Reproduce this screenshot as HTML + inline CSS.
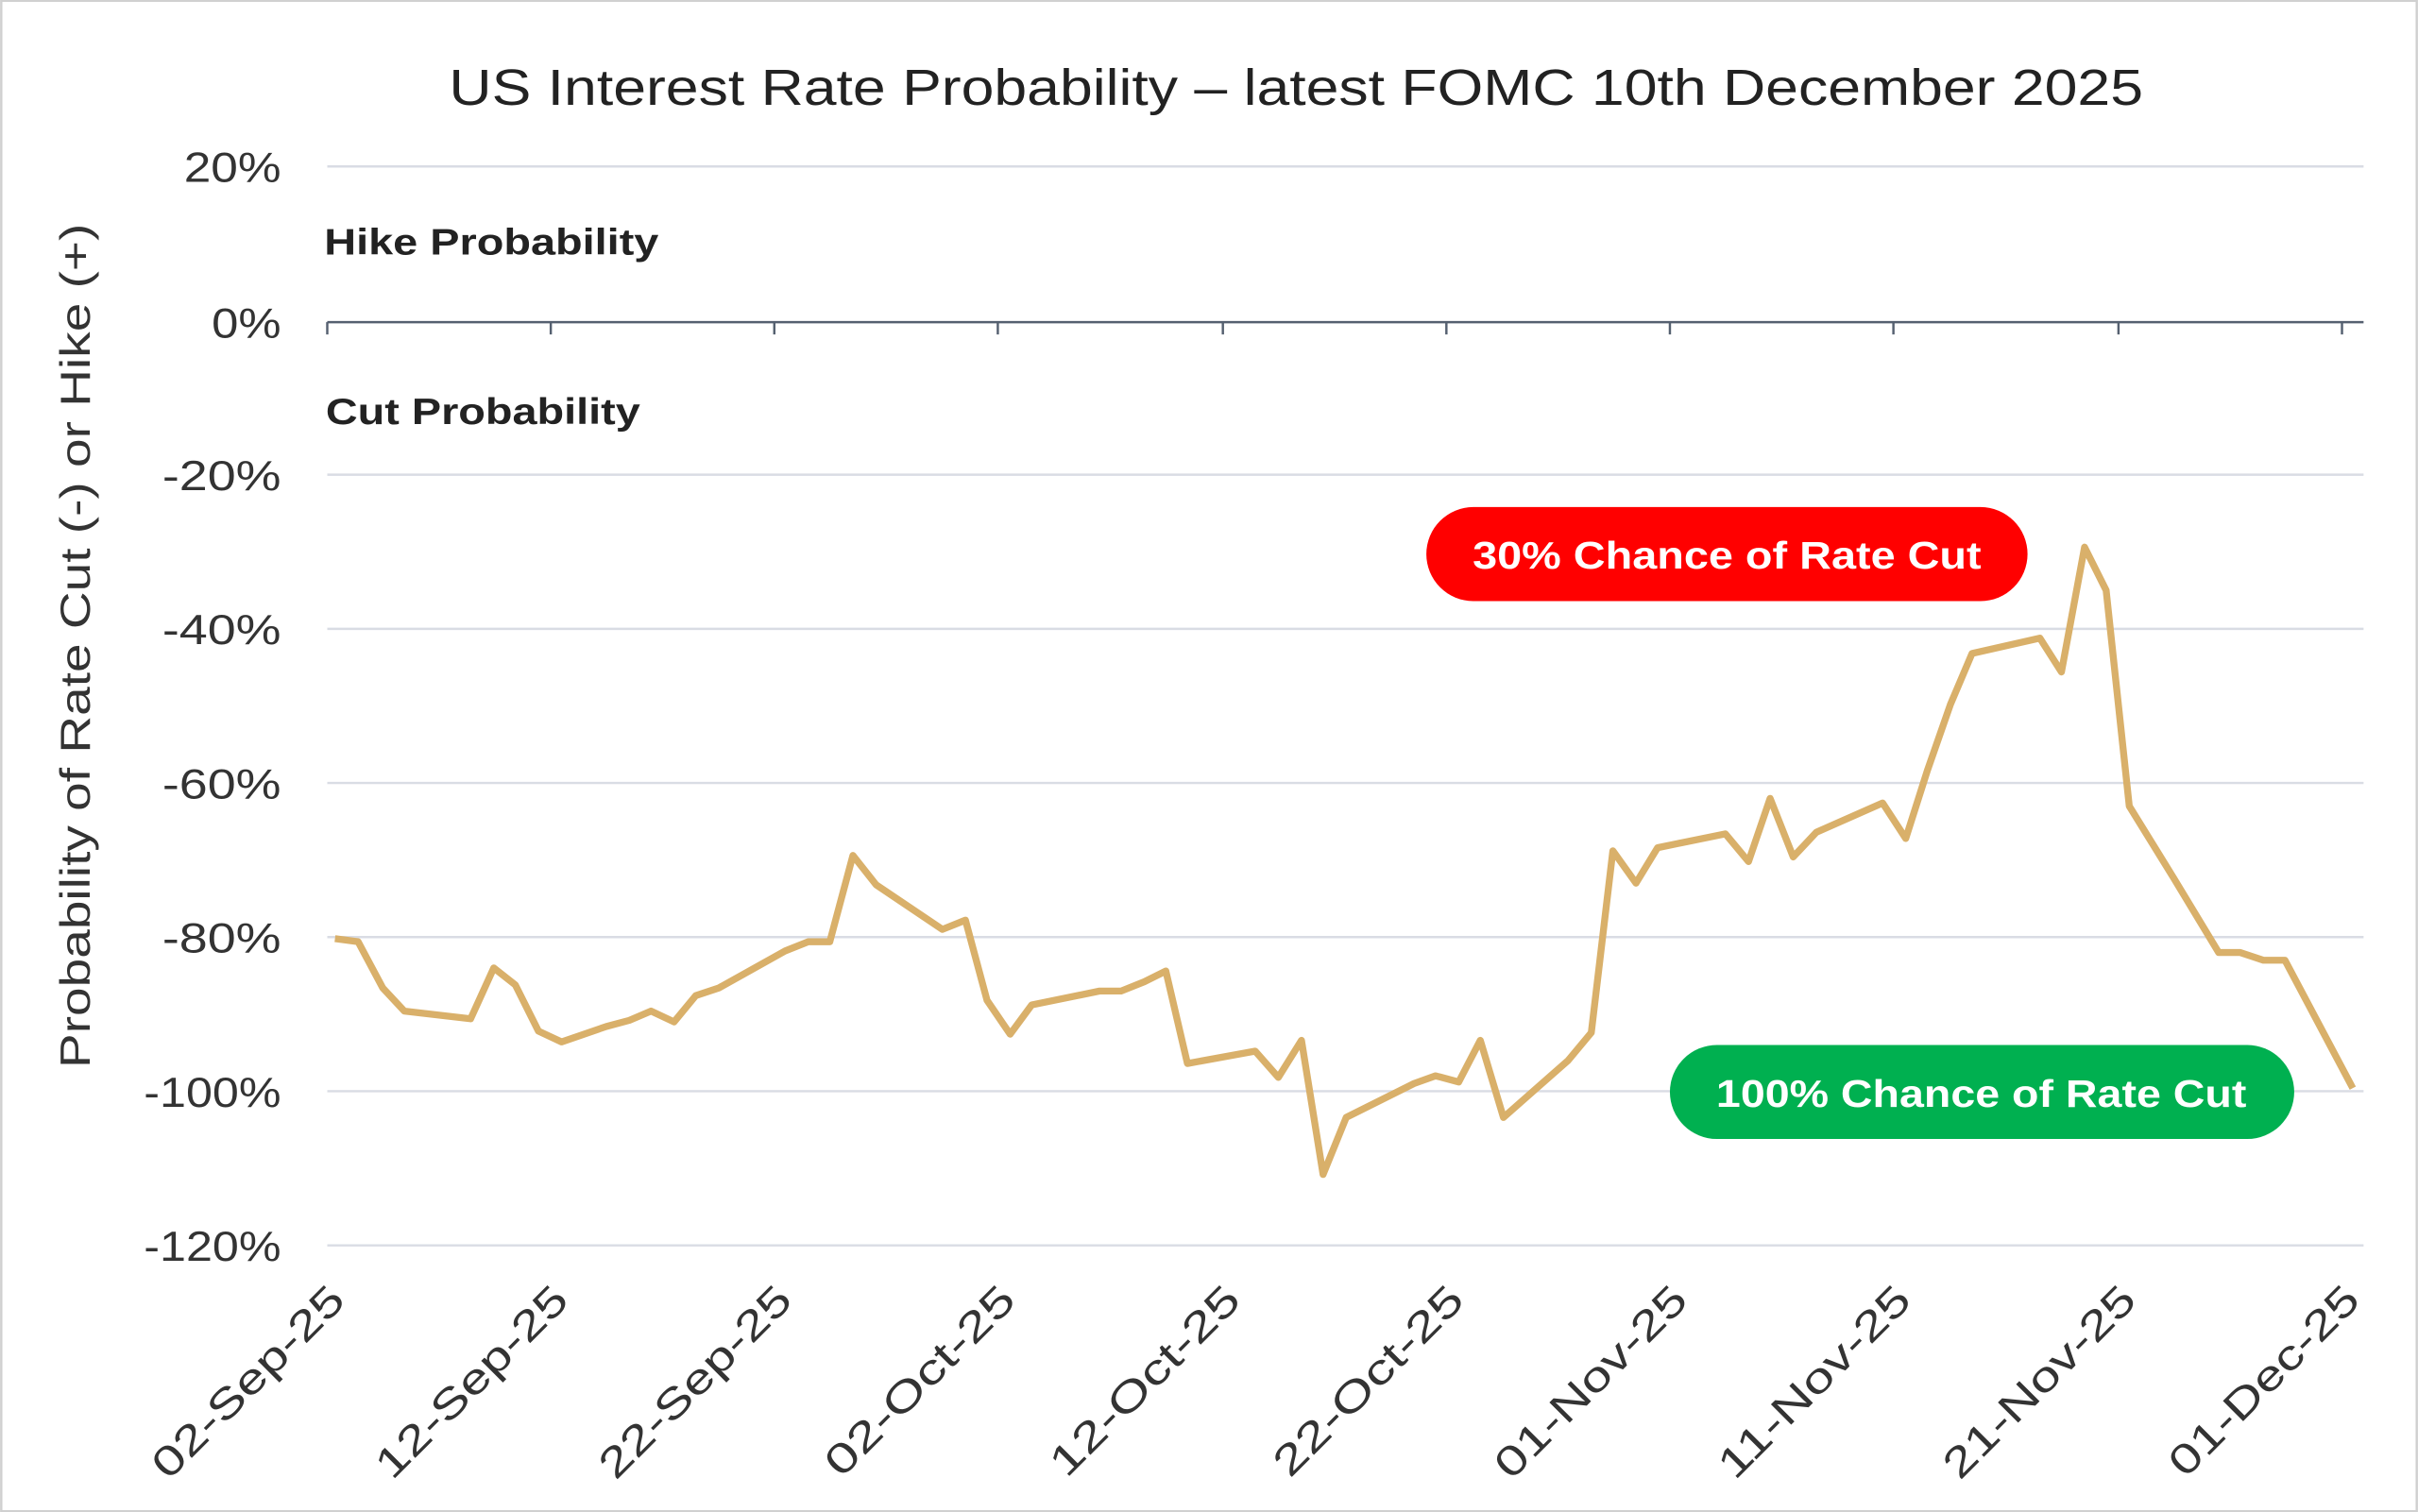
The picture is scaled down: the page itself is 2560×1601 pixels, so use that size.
<!DOCTYPE html>
<html><head><meta charset="utf-8"><style>
html,body{margin:0;padding:0;background:#fff;}
svg{display:block;}
text{font-family:"Liberation Sans",sans-serif;}
</style></head><body>
<svg width="2560" height="1601" viewBox="0 0 1568 981" xmlns="http://www.w3.org/2000/svg">
<rect x="0.5" y="0.5" width="1567" height="980" fill="#fff" stroke="#d0d0d0" stroke-width="1.5"/>
<text x="291" y="68" font-size="33" fill="#222" textLength="1099" lengthAdjust="spacingAndGlyphs">US Interest Rate Probability – latest FOMC 10th December 2025</text>
<g stroke="#d9dce4" stroke-width="1.5">
<line x1="212" y1="108" x2="1533" y2="108"/>
<line x1="212" y1="308" x2="1533" y2="308"/>
<line x1="212" y1="408" x2="1533" y2="408"/>
<line x1="212" y1="508" x2="1533" y2="508"/>
<line x1="212" y1="608" x2="1533" y2="608"/>
<line x1="212" y1="708" x2="1533" y2="708"/>
<line x1="212" y1="808" x2="1533" y2="808"/>
</g>
<line x1="212" y1="209" x2="1533" y2="209" stroke="#556070" stroke-width="1.5"/>
<g stroke="#556070" stroke-width="1.5">
<line x1="212" y1="209" x2="212" y2="217"/><line x1="357" y1="209" x2="357" y2="217"/><line x1="502" y1="209" x2="502" y2="217"/><line x1="647" y1="209" x2="647" y2="217"/><line x1="793" y1="209" x2="793" y2="217"/><line x1="938" y1="209" x2="938" y2="217"/><line x1="1083" y1="209" x2="1083" y2="217"/><line x1="1228" y1="209" x2="1228" y2="217"/><line x1="1374" y1="209" x2="1374" y2="217"/><line x1="1519" y1="209" x2="1519" y2="217"/>
</g>
<g font-size="27" fill="#333">
<text x="119" y="118" textLength="63" lengthAdjust="spacingAndGlyphs">20%</text>
<text x="137" y="219" textLength="45" lengthAdjust="spacingAndGlyphs">0%</text>
<text x="105" y="318" textLength="77" lengthAdjust="spacingAndGlyphs">-20%</text>
<text x="105" y="418" textLength="77" lengthAdjust="spacingAndGlyphs">-40%</text>
<text x="105" y="518" textLength="77" lengthAdjust="spacingAndGlyphs">-60%</text>
<text x="105" y="618" textLength="77" lengthAdjust="spacingAndGlyphs">-80%</text>
<text x="93" y="718" textLength="89" lengthAdjust="spacingAndGlyphs">-100%</text>
<text x="93" y="818" textLength="89" lengthAdjust="spacingAndGlyphs">-120%</text>
</g>
<text transform="translate(58,693) rotate(-90)" font-size="27" fill="#333" textLength="548" lengthAdjust="spacingAndGlyphs">Probability of Rate Cut (-) or Hike (+)</text>
<text x="210" y="165" font-size="24" font-weight="bold" fill="#222" textLength="217" lengthAdjust="spacingAndGlyphs">Hike Probability</text>
<text x="211" y="275" font-size="24" font-weight="bold" fill="#222" textLength="204" lengthAdjust="spacingAndGlyphs">Cut Probability</text>
<g font-size="27" fill="#333" text-anchor="end">
<text transform="translate(225,845) rotate(-45)" textLength="164" lengthAdjust="spacingAndGlyphs">02-Sep-25</text>
<text transform="translate(370,845) rotate(-45)" textLength="164" lengthAdjust="spacingAndGlyphs">12-Sep-25</text>
<text transform="translate(515,845) rotate(-45)" textLength="164" lengthAdjust="spacingAndGlyphs">22-Sep-25</text>
<text transform="translate(660,845) rotate(-45)" textLength="162" lengthAdjust="spacingAndGlyphs">02-Oct-25</text>
<text transform="translate(806,845) rotate(-45)" textLength="162" lengthAdjust="spacingAndGlyphs">12-Oct-25</text>
<text transform="translate(951,845) rotate(-45)" textLength="162" lengthAdjust="spacingAndGlyphs">22-Oct-25</text>
<text transform="translate(1096,845) rotate(-45)" textLength="164" lengthAdjust="spacingAndGlyphs">01-Nov-25</text>
<text transform="translate(1241,845) rotate(-45)" textLength="164" lengthAdjust="spacingAndGlyphs">11-Nov-25</text>
<text transform="translate(1387,845) rotate(-45)" textLength="164" lengthAdjust="spacingAndGlyphs">21-Nov-25</text>
<text transform="translate(1532,845) rotate(-45)" textLength="162" lengthAdjust="spacingAndGlyphs">01-Dec-25</text>
</g>
<polyline fill="none" stroke="#d9b06a" stroke-width="4.5" stroke-linejoin="round" points="217,609 232,611 248,641 262,656 305,661 320,628 334,639 349,669 364,676 393,666 408,662 422,656 437,663 451,646 466,641 509,617 524,611 538,611 553,555 568,574 611,603 626,597 640,649 655,671 669,652 713,643 727,643 742,637 756,630 770,690 814,682 829,699 844,675 858,762 873,725 917,703 931,698 946,702 960,675 975,725 1017,688 1032,670 1046,552 1061,573 1075,550 1119,541 1134,559 1148,518 1163,556 1178,540 1221,521 1236,544 1250,500 1265,457 1279,424 1323,414 1337,436 1352,355 1366,383 1381,523 1410,570 1439,618 1453,618 1468,623 1482,623 1526,706"/>
<rect x="925" y="329" width="390" height="61" rx="30.5" fill="#ff0000"/>
<text x="955" y="369" font-size="25" font-weight="bold" fill="#fff" textLength="330" lengthAdjust="spacingAndGlyphs">30% Chance of Rate Cut</text>
<rect x="1083" y="678" width="405" height="61" rx="30.5" fill="#00b050"/>
<text x="1113" y="718" font-size="25" font-weight="bold" fill="#fff" textLength="344" lengthAdjust="spacingAndGlyphs">100% Chance of Rate Cut</text>
</svg>
</body></html>
